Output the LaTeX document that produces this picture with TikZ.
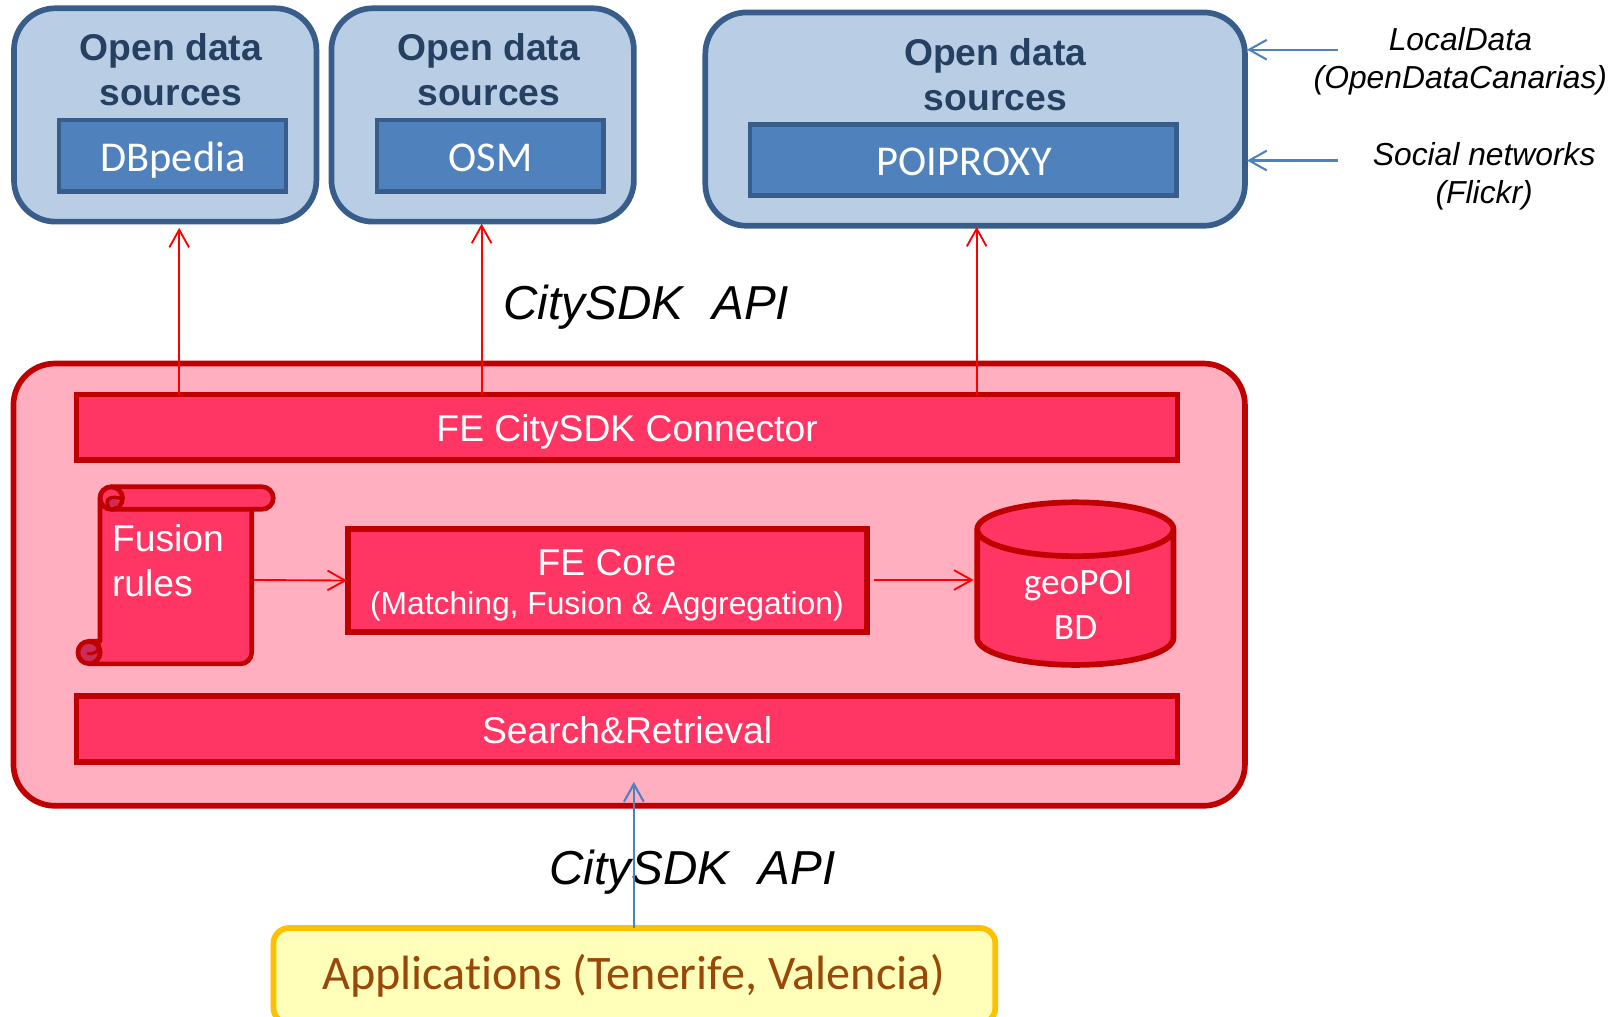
\documentclass[tikz,border=0pt]{standalone}
\usepackage{fontspec}
\setmainfont{Liberation Sans}
\newfontfamily\calib[RawFeature=-liga]{Carlito}
\usetikzlibrary{arrows.meta}
\definecolor{bstroke}{HTML}{385D8A}
\definecolor{bfill}{HTML}{B9CDE5}
\definecolor{binner}{HTML}{4F81BD}
\definecolor{btext}{HTML}{254061}
\definecolor{rstroke}{HTML}{C00000}
\definecolor{rfill}{HTML}{FFAFC0}
\definecolor{rinner}{HTML}{FF3663}
\definecolor{rdark}{HTML}{CC2C58}
\definecolor{ystroke}{HTML}{FFC000}
\definecolor{yfill}{HTML}{FFFFB9}
\definecolor{ytext}{HTML}{984807}
\newcommand{\fs}[2]{\fontsize{#1}{#2}\selectfont}
\tikzset{
  x=1pt,y=1pt,
  srcbox/.style={draw=bstroke,fill=bfill,line width=5.5pt,rounded corners=40pt,inner sep=0,outer sep=0},
  srcinner/.style={draw=bstroke,fill=binner,line width=4.5pt,inner sep=0,outer sep=0},
  srcinnertext/.style={text=white,font=\calib\fs{41}{48},inner sep=0,anchor=base},
  srctitle/.style={text=btext,font=\bfseries\fs{36}{43},align=center,inner sep=0,anchor=base},
  redbox/.style={draw=rstroke,fill=rinner,line width=5.5pt,inner sep=0,outer sep=0},
  redarrow/.style={draw=red,line width=1.8pt,-{Straight Barb[length=17pt,width=19pt,line width=1.8pt]}},
  bluearrow/.style={draw=binner,line width=2pt,-{Straight Barb[length=17pt,width=19pt,line width=2pt]}},
  sidelabel/.style={font=\itshape\fs{30.7}{37},align=center,inner sep=0,anchor=base},
  apilabel/.style={font=\itshape\fs{46}{55},inner sep=0,anchor=base},
  whitetext/.style={text=white,inner sep=0},
}
\begin{document}
\begin{tikzpicture}
\useasboundingbox (0,0) rectangle (1568,-981);
% source boxes
\node[srcbox,minimum width=292pt,minimum height=206pt] (b1) at (159.5,-111) {};
\node[srcbox,minimum width=292pt,minimum height=206pt] (b2) at (466,-111) {};
\node[srcbox,minimum width=521pt,minimum height=206pt] (b3) at (941.5,-115) {};
\node[srctitle] (t1) at (165,-58) {Open data};
\node[srctitle] (t1b) at (165,-102) {sources};
\node[srctitle] (t2) at (472,-58) {Open data};
\node[srctitle] (t2b) at (472,-102) {sources};
\node[srctitle] (t3) at (961,-63) {Open data};
\node[srctitle] (t3b) at (961,-107) {sources};
\node[srcinner,minimum width=219pt,minimum height=69pt] (i1) at (166.5,-150.5) {};
\node[srcinner,minimum width=219pt,minimum height=69pt] (i2) at (473.5,-150.5) {};
\node[srcinner,minimum width=412pt,minimum height=69pt] (i3) at (930,-154.5) {};
\node[srcinnertext] (i1t) at (167,-166) {DBpedia};
\node[srcinnertext] (i2t) at (473.5,-166) {OSM};
\node[srcinnertext] (i3t) at (931,-169.5) {POIPROXY};
% main box
\node[redbox,fill=rfill,rounded corners=40pt,minimum width=1189pt,minimum height=427pt] (main) at (607.5,-564.5) {};
\node[redbox,minimum width=1063pt,minimum height=63pt] (conn) at (605.5,-412.5) {};
\node[whitetext,font=\fs{36}{43},anchor=base] (connt) at (605.5,-426.5) {FE CitySDK Connector};
\node[redbox,minimum width=1063pt,minimum height=64pt] (search) at (605.5,-704) {};
\node[whitetext,font=\fs{36}{43},anchor=base] (searcht) at (605.5,-718) {Search\&Retrieval};
\node[redbox,minimum width=501pt,minimum height=100pt] (core) at (586.5,-560.5) {};
\node[whitetext,font=\fs{36}{43},anchor=base] (coret) at (586,-556) {FE Core};
\node[whitetext,font=\fs{30.7}{36},anchor=base] (coreb) at (586,-593) {(Matching, Fusion \& Aggregation)};
% scroll
\draw[draw=rstroke,fill=rinner,line width=4.5pt,line join=round]
  (243,-491.7) -- (243,-630) arc[start angle=0,end angle=-90,radius=11] -- (86,-641)
  -- (86,-619) -- (96.5,-619) -- (96.5,-481)
  arc[start angle=180,end angle=90,radius=11] -- (253,-470)
  arc[start angle=90,end angle=-90,radius=10.85] -- (107.5,-491.7);
\draw[draw=rstroke,fill=rinner,line width=4.5pt] (107.5,-481) circle[radius=10.8];
\fill[rdark] (105,-483) rectangle (114,-489);
\draw[draw=rstroke,line width=3.5pt,line cap=round] (116,-481) .. controls (110,-479.5) and (103,-480) .. (103.5,-485) .. controls (103.5,-488) and (104.5,-490) .. (106,-491);
\draw[draw=rstroke,fill=rdark,line width=4.5pt] (86,-630) circle[radius=10.8];
\draw[draw=rstroke,line width=3pt,line cap=round] (96,-622) .. controls (96,-628) and (92,-632) .. (85,-631);
\coordinate (scr) at (245,-560);
\node[whitetext,font=\fs{36}{43},anchor=base west] (fus) at (108,-532) {Fusion};
\node[whitetext,font=\fs{36}{43},anchor=base west] (rul) at (108,-576) {rules};
% cylinder
\draw[draw=rstroke,fill=rinner,line width=5.5pt]
  (943.5,-511) -- (943.5,-616) arc[x radius=94.75,y radius=26,start angle=180,end angle=360] -- (1133,-511)
  arc[x radius=94.75,y radius=26,start angle=0,end angle=180]
  arc[x radius=94.75,y radius=26,start angle=180,end angle=360];
\coordinate (db) at (940,-560);
\coordinate (coreout) at (844,-560);
\node[whitetext,font=\calib\fs{36}{43},anchor=base] (geo) at (1041,-574) {geoPOI};
\node[whitetext,font=\calib\fs{36}{43},anchor=base] (bd) at (1038.5,-617) {BD};
% apps
\node[draw=ystroke,fill=yfill,line width=5.5pt,rounded corners=15pt,inner sep=0,outer sep=0,minimum width=697pt,minimum height=92pt] (apps) at (612.5,-942) {};
\node[text=ytext,font=\calib\fs{46.5}{52},inner sep=0,anchor=base] (appst) at (612,-955) {Applications (Tenerife, Valencia)};
% labels
\node[apilabel] (api1) at (624,-308.5) {CitySDK\, \,API};
\node[apilabel] (api2) at (668.5,-854) {CitySDK\, \,API};
\node[sidelabel] (l1) at (1410,-48.5) {LocalData};
\node[sidelabel] (l1b) at (1410,-85) {(OpenDataCanarias)};
\node[sidelabel] (l2) at (1433,-159.5) {Social networks};
\node[sidelabel] (l2b) at (1433,-196.5) {(Flickr)};
% connector ends
\coordinate (a1) at (173,-220);
\coordinate (a2) at (465,-216);
\coordinate (a3) at (943,-219);
\coordinate (s1) at (1292,-48);
\coordinate (s1e) at (1204,-48);
\coordinate (s2) at (1292,-155);
\coordinate (s2e) at (1204,-155);
\coordinate (se) at (612,-755);
% arrows
\draw[redarrow] (conn.north -| a1) -- (a1);
\draw[redarrow] (conn.north -| a2) -- (a2);
\draw[redarrow] (conn.north -| a3) -- (a3);
\draw[redarrow] (scr) -- ([xshift=-1pt]core.west);
\draw[redarrow] (coreout) -- (db);
\draw[bluearrow] (s1) -- (s1e);
\draw[bluearrow] (s2) -- (s2e);
\draw[bluearrow] (apps.north -| se) -- (se);
\end{tikzpicture}
\end{document}
